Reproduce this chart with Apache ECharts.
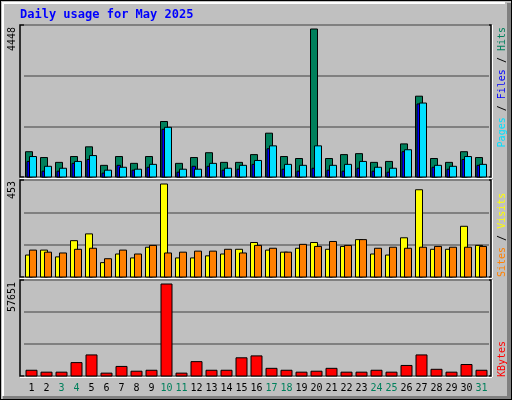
<!DOCTYPE html>
<html>
<head>
<meta charset="utf-8">
<script src="https://cdn.jsdelivr.net/npm/echarts@6/dist/echarts.min.js"></script>
<style>html,body{margin:0;padding:0;background:#c0c0c0}#chart{width:512px;height:400px}</style>
</head>
<body>
<div id="chart"></div>
<script>
var days = ['1','2','3','4','5','6','7','8','9','10','11','12','13','14','15','16','17','18','19','20','21','22','23','24','25','26','27','28','29','30','31'];
var weekend = ['3','4','10','11','17','18','24','25','31'];
var hits = [760,585,440,615,907,350,615,410,615,1668,410,585,730,440,440,673,1317,615,556,4448,556,673,702,440,468,995,2429,556,440,760,585];
var files = [615,322,263,468,644,205,293,234,380,1493,234,234,410,263,351,497,936,380,351,936,351,380,468,293,263,819,2223,351,322,615,380];
var pages = [468,175,175,410,527,117,351,205,293,1434,146,322,322,205,234,380,849,234,175,263,205,175,263,175,146,760,2195,293,234,527,351];
var visits = [107,131,98,177,210,70,112,93,145,453,93,93,103,112,135,168,131,121,140,168,135,149,182,112,107,191,425,135,135,247,154];
var sites = [131,121,117,135,140,89,131,112,154,117,121,126,126,135,117,154,140,121,159,149,173,154,182,140,145,140,145,149,145,145,149];
var kbytes = [3600,2400,2400,8400,13200,1800,6000,3000,3600,57651,1800,9000,3600,3600,11400,12600,4800,3600,2400,3000,4800,2400,2400,3600,2400,6600,13200,4200,2400,7200,3600];
var maxLabels = ['4448','453','57651'];

function pairs(arr) {
    return arr.map(function (v, i) { return [i, v]; });
}

function barItem(offL, offR, color) {
    return function (params, api) {
        var top = api.coord([api.value(0), api.value(1)]);
        var base = api.coord([api.value(0), 0]);
        return {
            type: 'rect',
            shape: { x: top[0] + offL, y: top[1], width: offR - offL, height: base[1] - top[1] },
            style: { fill: color, stroke: '#000', lineWidth: 1 }
        };
    };
}

function bars(name, idx, data, offL, offR, color) {
    return {
        name: name, type: 'custom', xAxisIndex: idx, yAxisIndex: idx,
        renderItem: barItem(offL, offR, color), data: pairs(data), animation: false
    };
}

var grids = [
    { left: 24, right: 23, top: 25, height: 152 },
    { left: 24, right: 23, top: 180, height: 97 },
    { left: 24, right: 23, top: 280, height: 96 }
];
// headroom above the tallest bar, as in the original
var maxes = [4448 * 152 / 148, 453 * 97 / 93, 57651 * 96 / 92];

var xAxes = grids.map(function (g, i) {
    return {
        type: 'category', gridIndex: i, data: days, boundaryGap: true,
        axisLine: { show: false }, axisTick: { show: false },
        axisLabel: {
            show: i == 2, margin: 7, interval: 0,
            fontFamily: 'DejaVu Sans Mono', fontSize: 10, color: '#000',
            formatter: function (v) { return weekend.indexOf(v) >= 0 ? '{w|' + v + '}' : v; },
            rich: { w: { color: '#00805c', fontFamily: 'DejaVu Sans Mono', fontSize: 10 } }
        }
    };
});
var yAxes = grids.map(function (g, i) {
    return {
        type: 'value', gridIndex: i, min: 0, max: maxes[i], interval: maxes[i] / 3,
        axisLabel: { show: false }, axisLine: { show: false }, axisTick: { show: false },
        splitLine: { show: true, lineStyle: { color: '#808080', width: 2 } }
    };
});

function frame(x, y, w, h) {
    return [
        { type: 'line', shape: { x1: x, y1: y + h + 1, x2: x + w + 1, y2: y + h + 1 }, style: { stroke: '#fff', lineWidth: 2 } },
        { type: 'line', shape: { x1: x + w + 1, y1: y, x2: x + w + 1, y2: y + h + 1 }, style: { stroke: '#fff', lineWidth: 2 } },
        { type: 'rect', shape: { x: x, y: y, width: w, height: h }, style: { fill: 'none', stroke: '#000', lineWidth: 1.5 } }
    ];
}

function vtext(x, y, align, text, rich) {
    return {
        type: 'text', x: x, y: y, rotation: Math.PI / 2, z: 100,
        style: {
            text: text, align: align, verticalAlign: 'middle',
            font: '10px "DejaVu Sans Mono"', fill: '#000', rich: rich
        }
    };
}

var rf = function (c) { return { fill: c, font: '10px "DejaVu Sans Mono"' }; };

var graphics = [
    { type: 'rect', shape: { x: 0, y: 0, width: 512, height: 400 }, style: { fill: '#c0c0c0', stroke: '#000', lineWidth: 2 }, z: -10 },
    { type: 'line', shape: { x1: 2, y1: 3, x2: 505, y2: 3 }, style: { stroke: '#fff', lineWidth: 2 }, z: -5 },
    { type: 'line', shape: { x1: 3, y1: 3, x2: 3, y2: 396 }, style: { stroke: '#fff', lineWidth: 2 }, z: -5 },
    { type: 'rect', shape: { x: 507, y: 3, width: 4, height: 396 }, style: { fill: '#808080' }, z: -5 },
    { type: 'rect', shape: { x: 3, y: 396, width: 508, height: 3 }, style: { fill: '#808080' }, z: -5 },
    { type: 'text', x: 20, y: 15, style: { text: 'Daily usage for May 2025', font: 'bold 12px "DejaVu Sans Mono"', fill: '#0000ff', verticalAlign: 'middle' } },
    vtext(12, 27, 'right', maxLabels[0]),
    vtext(12, 181, 'right', maxLabels[1]),
    vtext(12, 282, 'right', maxLabels[2]),
    vtext(502, 27, 'right', '{p|Pages} / {f|Files} / {h|Hits}', { p: rf('#00e0ff'), f: rf('#0000ff'), h: rf('#00805c') }),
    vtext(502, 277, 'left', '{s|Sites} / {v|Visits}', { s: rf('#ff8000'), v: rf('#ffff00') }),
    vtext(502, 377, 'left', '{k|KBytes}', { k: rf('#ff0000') })
].concat(frame(20, 25, 471, 152), frame(20, 180, 471, 97), frame(20, 280, 471, 96));

var chart = echarts.init(document.getElementById('chart'));
chart.setOption({
    backgroundColor: '#c0c0c0',
    animation: false,
    grid: grids,
    xAxis: xAxes,
    yAxis: yAxes,
    graphic: graphics,
    series: [
        bars('Hits', 0, hits, -6, 1, '#00805c'),
        bars('Pages', 0, pages, -4.5, -1, '#0000ff'),
        bars('Files', 0, files, -2, 5, '#00e0ff'),
        bars('Visits', 1, visits, -6, 1, '#ffff00'),
        bars('Sites', 1, sites, -2, 5, '#ff8000'),
        bars('KBytes', 2, kbytes, -5.5, 5.5, '#ff0000')
    ]
});
</script>
</body>
</html>
